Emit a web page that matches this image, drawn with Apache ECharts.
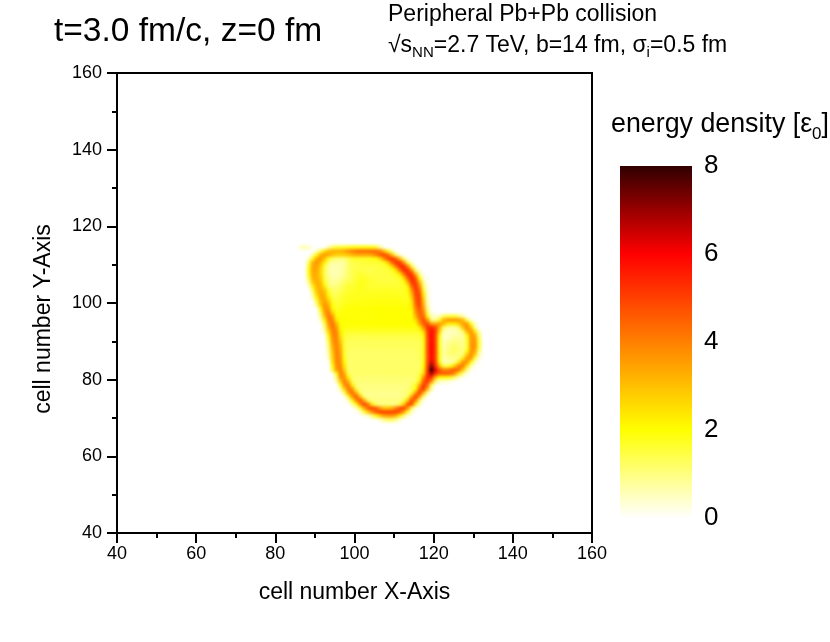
<!DOCTYPE html>
<html>
<head>
<meta charset="utf-8">
<script src="https://cdn.jsdelivr.net/npm/echarts@6/dist/echarts.min.js"></script>
<style>
  html, body { margin: 0; background: #fff; }
  #wrap { position: relative; width: 830px; height: 642px; }
  #heat, #frame { position: absolute; left: 0; top: 0; width: 830px; height: 642px; }
  #heat { filter: blur(1.5px); } /* source picture is interpolated between cells */
</style>
</head>
<body>
<div id="wrap">
  <div id="heat"></div>
  <div id="frame"></div>
</div>
<script>
// cell numbers along each axis, a cell k covers [k, k+1]
const cellX = [];
for (let k = 40; k < 160; k++) cellX.push(String(k));
const cellY = cellX.slice();

// row y of the picture, read top to bottom
const rowY = [114,113,112,111,110,109,108,107,106,105,104,103,102,101,100,99,98,97,96,95,94,93,92,91,90,89,88,87,86,85,84,83,82,81,80,79,78,77,76,75,74,73,72,71,70,69];
// first filled cell of every row
const rowStart = [86,90,89,88,88,88,88,88,88,88,88,89,89,89,90,90,91,91,91,91,92,92,92,93,93,93,93,93,93,93,94,94,94,95,95,95,96,96,97,98,98,99,100,101,103,106];

// energy density [e0], cell by cell
const energyRows = [
  [.5,.6,.5,0,0,0,0,.7,1.3,1.6,1.6,1.7,1.8,1.9,1.9,1.9,1.9,1.9,1.9,1.6,.9],
  [.5,1.3,2.4,3,3.2,3.2,3.2,3.4,3.8,4,4.2,4.3,4.3,4.3,4.3,4.3,4,3,1.8,.7],
  [.7,1.9,3.2,3.6,3.4,3,2.8,2.8,2.8,3,3.2,3.4,3.4,3.4,3.4,3.6,4,4.6,4.9,4.4,3,1.3,.3],
  [.5,1.9,3.3,3.7,3,1.8,1.3,1.1,1.1,1.1,1.4,1.7,1.7,1.7,1.7,1.7,1.8,2,2.6,3.8,4.9,5.2,4.6,3,1.1,.2],
  [1.3,3.2,3.7,3.2,2.2,1.1,.8,.7,.7,.8,1.2,1.4,1.5,1.5,1.6,1.6,1.6,1.6,1.6,1.9,2.8,4.4,5.2,5.2,3.8,1.4,.3],
  [1.7,3.4,3.5,2.8,1.6,.8,.6,.6,.7,.8,1.2,1.4,1.5,1.5,1.5,1.5,1.5,1.5,1.5,1.6,1.8,2.6,4.2,5.2,5.4,4,1.6,.3],
  [1.9,3.4,3.4,2.7,1.4,.8,.6,.6,.7,.9,1.2,1.4,1.5,1.5,1.5,1.4,1.4,1.5,1.5,1.5,1.6,1.8,2.4,4.2,5.3,5.3,3.8,1.2,.2],
  [1.8,3.3,3.3,2.6,1.4,.8,.6,.6,.7,.9,1.2,1.4,1.6,1.6,1.6,1.5,1.5,1.5,1.5,1.5,1.5,1.6,1.8,2.4,4.2,5.3,5.2,3.2,.9,.1],
  [1.5,3.2,3.3,2.8,1.5,.9,.7,.7,.8,1,1.2,1.4,1.6,1.7,1.7,1.6,1.5,1.5,1.5,1.5,1.5,1.5,1.6,1.8,2.6,4.6,5.4,4.6,1.9,.3],
  [1,2.9,3.3,3,1.7,1,.8,.8,1,1.2,1.4,1.5,1.7,1.8,1.8,1.7,1.6,1.6,1.5,1.5,1.5,1.5,1.5,1.6,1.9,3.4,5.2,5,3,.8,.1],
  [.4,2.2,3.2,3.2,2.1,1.1,.9,1,1.2,1.4,1.6,1.6,1.7,1.8,1.8,1.7,1.6,1.6,1.6,1.6,1.6,1.6,1.6,1.6,1.7,2.4,4.6,5.2,3.8,1.2,.2],
  [1.6,3,3.3,2.8,1.6,1.2,1.2,1.3,1.5,1.7,1.7,1.8,1.8,1.8,1.7,1.7,1.7,1.7,1.7,1.7,1.7,1.7,1.7,1.7,2,3.8,5.2,4.4,1.6,.2],
  [1,2.7,3.4,3.1,1.9,1.3,1.3,1.5,1.6,1.7,1.8,1.8,1.8,1.8,1.8,1.8,1.8,1.8,1.8,1.8,1.8,1.8,1.7,1.7,1.9,3.2,5,4.8,2.2,.3],
  [.6,2.2,3.4,3.3,2.2,1.5,1.4,1.6,1.7, 1.8,1.8,1.8,1.8, 1.8,1.8,1.8,1.8, 1.8,1.8,1.8,1.8, 1.8,1.8,1.8,1.8, 2.8,4.8,5,2.6,.4],
  [1.5,3.1,3.4,2.8,1.7,1.5,1.6,1.7, 1.8,1.8, 1.9,1.9,1.9,1.9, 1.9,1.9,1.9,1.9, 1.9,1.9,1.9,1.9, 1.8,1.8, 2.4,4.6,5,2.9,.5],
  [1,2.8,3.7,3.2,2,1.6,1.7,1.8, 1.9,1.9,1.9,1.9, 1.9,1.9,1.9,1.9, 1.9,1.9,1.9,1.9, 1.9,1.9,1.9,1.9, 2.3,4.3,5,3.2,.6],
  [2.1,3.7,3.6,2,1.7,1.8,1.9, 2,2,2,2, 2,2,2,2, 2,2,2,2, 2,2,2,2, 2.2,4,4.8,3.6,.9],
  [1.5,3.5,4,2.7,1.9,1.9, 2,2,2,2,2,2, 2,2,2,2,2,2, 2,2,2,2,2,2, 3.6,4.6,4,1.3,.2],
  [.9,3,4.2,3.6,2,2, 2,2,2,2,2,2, 2,2,2,2,2,2, 2,2,2,2,2,2, 3.2,4.4,4.4,2.1,.5,.4,.6,1.2,1.6,1.6,1.6,1.2,.6,.1],
  [.5,2.2,4,4,2.4,2, 2,2,2,2,2,2, 2,2,2,2,2,2, 2,2,2,2,2,2, 2.6,4,4.8,3.6,1.2,.8,1.8,3.2,3.6,3.7,3.7,3.6,3,1.4,.3],
  [1.4,3.6,4.2,3.2,2, 2,2,2,2,2, 2,2,2,2,2, 2,2,2,2,2, 2,2,2,2, 3.4,4.6,4.8,3.6,3.4,3.6,3.2,2.4,2.2,2.2,2.8,3.6,3.5,1.9,.4],
  [1,3.2,4.2,3.6,2.1, 1.9,1.9,1.9,1.9,1.9, 1.9,1.9,1.9,1.9,1.9, 1.9,1.9,1.9,1.9,1.9, 1.9,1.9,1.9,1.9, 2.3,3.8,5.2,5.5,5,3.4,1.4,.8,.7,.8,1.2,3,3.9,2.9,.9,.1],
  [.6,2.6,4,3.9,2.3,1.8, 1.7,1.7,1.7,1.7,1.7,1.7, 1.7,1.7,1.7,1.7,1.7,1.7, 1.7,1.7,1.7,1.7,1.7,1.7, 1.8,2.6,5,5.8,5.2,2.8,.8,.5,.5,.6,.7,1.3,3.2,3.7,2.4,.6],
  [2.1,3.9,4,2.5,1.7, 1.5,1.5,1.5,1.5,1.5, 1.5,1.5,1.5,1.5,1.5, 1.5,1.5,1.5,1.5,1.5, 1.5,1.5,1.5,1.5, 2.1,4.9,6,5,2.2,.5,.5,.6,.7,.7,.8,2.1,3.7,3.3,1.1],
  [1.7,3.7,4,2.8,1.6, 1.4,1.4,1.4,1.4,1.4, 1.4,1.4,1.4,1.4,1.4, 1.4,1.4,1.4,1.4,1.4, 1.4,1.4,1.4,1.4, 1.9,4.8,6,5,2,.5,.6,.8,.9,.9,.8,1.7,3.6,3.6,1.4],
  [1.3,3.5,4,3.1,1.6, 1.3,1.3,1.3,1.3,1.3, 1.3,1.3,1.3,1.3,1.3, 1.3,1.3,1.3,1.3,1.3, 1.3,1.3,1.3,1.3, 1.8,4.8,6,5,1.9,.6,.8,1,1,1,.9,1.6,3.6,3.7,1.5],
  [1.1,3.2,4,3.3,1.6, 1.3,1.3,1.3,1.3,1.3, 1.3,1.3,1.3,1.3,1.3, 1.3,1.3,1.3,1.3,1.3, 1.3,1.3,1.3,1.3, 1.8,4.8,6,5,1.9,.6,.9,1.1,1.2,1.1,.9,1.6,3.6,3.7,1.5],
  [.8,3,4,3.4,1.7, 1.2,1.2,1.2,1.2,1.2,1.2, 1.2,1.2,1.2,1.2,1.2,1.2, 1.2,1.2,1.2,1.2,1.2,1.2, 1.3,1.8,4.8,6,5,1.9,.7,1,1.2,1.2,1.1,1,1.9,3.7,3.4,1.1],
  [.7,2.8,4,3.6,1.7, 1.2,1.2,1.2,1.2,1.2,1.2, 1.2,1.2,1.2,1.2,1.2,1.2, 1.2,1.2,1.2,1.2,1.2,1.2, 1.3,1.8,4.8,6,5,1.9,.7,1,1.1,1.1,1,1.2,2.8,3.8,2.8,.7],
  [.5,2.6,4,3.7,1.9, 1.2,1.2,1.2,1.2,1.2,1.2, 1.2,1.2,1.2,1.2,1.2,1.2, 1.2,1.2,1.2,1.2,1.2,1.2, 1.3,1.8,4.8,6,5,1.9,.6,.8,.9,.9,1.1,2.3,3.7,3.6,1.6,.3],
  [2.4,3.9,3.8,2.1, 1.2,1.2,1.2,1.2,1.2, 1.2,1.2,1.2,1.2,1.2, 1.2,1.2,1.2,1.2,1.2, 1.2,1.2,1.2,1.2, 1.9,4.9,6.4,5.2,2.2,.7,.6,.7,1.2,2.4,3.8,3.7,2,.5,.1],
  [1.9,3.7,3.9,2.4, 1.2,1.2,1.2,1.2,1.2, 1.2,1.2,1.2,1.2,1.2, 1.2,1.2,1.2,1.2,1.2, 1.2,1.2,1.2,1.2, 2,5,7.2,5.4,3.2,1.7,1.4,2,3,4,4,2.4,.7,.1],
  [1.5,3.5,4,2.8, 1.2,1.2,1.2,1.2,1.2, 1.2,1.2,1.2,1.2,1.2, 1.2,1.2,1.2,1.2,1.2, 1.2,1.2,1.2,1.2, 2.2,5.2,8,6.2,4.8,4,4,4.4,4.6,4.2,2.8,1,.2],
  [1.9,4,3.4,1.5, 1.2,1.2,1.2,1.2,1.2,1.2, 1.2,1.2,1.2,1.2,1.2,1.2, 1.2,1.2,1.2,1.2,1.2, 1.4,2.6,5.3,6.8,5.4,4.6,4.6,4.6,4.4,3.6,2.2,.9,.2],
  [1.1,3.7,3.8,2.2,1.2, 1.1,1.1,1.1,1.1,1.1, 1.1,1.1,1.1,1.1,1.1, 1.1,1.1,1.1,1.1,1.1, 1.2,1.7,3.8,5.4,5.2,3.2,2,2,2,1.7,1,.4],
  [.6,2.8,4.1,3.2,1.4, 1.1,1.1,1.1,1.1,1.1, 1.1,1.1,1.1,1.1,1.1, 1.1,1.1,1.1,1.1,1.1, 1.2,2.2,4.6,5.2,3.8,1.3,.4,.4,.3,.2],
  [1.7,3.8,4.1,2.3,1.1, 1,1,1,1,1, 1,1,1,1,1, 1,1,1, 1.3,1.7,3.4,5.2,4.4,1.3],
  [.7,2.6,4.2,3.7,1.6, 1,1,1,1, 1,1,1,1, 1,1,1,1, 1.1,1.3,2,4.4,5.2,3.2,.6],
  [1.3,3.4,4.4,3.2,1.3, .9,.9,.9,.9,.9, .9,.9,.9,.9,.9, 1,1.1,1.6,3.6,5,3.2,.8],
  [1.8,3.7,4.6,3,1.1, .9,.9,.9,.9,.9, .9,.9,.9,.9, 1,1.4,3.4,5,3.6,1],
  [.4,2,3.9,4.8,3.4,1.3, 1,1,1,1, 1,1,1,1, 1.4,2.8,5,4,1.3,.2],
  [.7,2,3.9,5,4.2,2.2,1.2, 1,1,1,1,1, 1.4,2.8,4.8,4.8,2.2,.5],
  [.5,1.7,3.4,4.6,5,4.6,3.6,3,3,3.2,4,4.8,5,3.8,1.4,.2],
  [.4,1.5,2.8,3.8,4.6,5,5,5,5,5,4.6,3.4,1.7,.4],
  [.4,1,1.9,2.8,3.4,3.6,3.6,3.2,2.2,1,.3],
  [.4,.9,1.2,1.2,.9,.3]
];

const FONT = '"Liberation Sans", Arial, sans-serif';
const HOT = ['#ffffff','#ffff80','#ffff00','#ffc000','#ff8000','#ff4000','#ff0000','#990000','#300000'];
const GRID = { left: 117, top: 73, width: 475, height: 460 };

const cells = [];
rowY.forEach((y, r) => {
  energyRows[r].forEach((v, i) => {
    if (v > 0) cells.push([String(rowStart[r] + i), String(y), v]);
  });
});

// heat layer sits below the frame so that only the map is softened
const heat = echarts.init(document.getElementById('heat'), null, { renderer: 'canvas' });
heat.setOption({
  animation: false,
  grid: GRID,
  xAxis: { type: 'category', data: cellX, show: false },
  yAxis: { type: 'category', data: cellY, show: false },
  visualMap: { show: false, min: 0, max: 8, inRange: { color: HOT } },
  series: [{ type: 'heatmap', data: cells, progressive: 0, itemStyle: { borderWidth: 0 } }]
});

// colour bar runs from 8 at the top to 0 at the bottom
const barFill = new echarts.graphic.LinearGradient(0, 0, 0, 1,
  HOT.slice().reverse().map((c, i) => ({ offset: i / 8, color: c })));

const frame = echarts.init(document.getElementById('frame'), null, { renderer: 'canvas' });
const axisCommon = {
  type: 'value', min: 40, max: 160, interval: 20,
  nameLocation: 'middle',
  axisLine: { show: true, onZero: false, lineStyle: { color: '#000', width: 2 } },
  axisTick: { show: true, inside: false, length: 10, lineStyle: { color: '#000', width: 2 } },
  minorTick: { show: true, splitNumber: 2, length: 5, lineStyle: { color: '#000', width: 2 } },
  splitLine: { show: false }
};
const tickFont = { fontFamily: FONT, fontSize: 18, color: '#000', hideOverlap: false, showMinLabel: true, showMaxLabel: true };
frame.setOption({
  animation: false,
  backgroundColor: 'transparent',
  grid: [
    Object.assign({ show: true, borderColor: '#000', borderWidth: 2, backgroundColor: 'transparent' }, GRID),
    { show: true, left: 620, top: 166, width: 72, height: 352, borderWidth: 0, backgroundColor: barFill }
  ],
  xAxis: [
    Object.assign({}, axisCommon, {
      gridIndex: 0, name: 'cell number X-Axis', nameGap: 48,
      nameTextStyle: { fontFamily: FONT, fontSize: 23, color: '#000' },
      axisLabel: Object.assign({ margin: 12 }, tickFont)
    }),
    { gridIndex: 1, type: 'value', show: false, min: 0, max: 1 }
  ],
  yAxis: [
    Object.assign({}, axisCommon, {
      gridIndex: 0, name: 'cell number Y-Axis', nameGap: 62,
      // label sits lower than the axis middle in the source
      nameTextStyle: { fontFamily: FONT, fontSize: 23, color: '#000', padding: [0, 32, 0, 0] },
      axisLabel: Object.assign({ margin: 15 }, tickFont)
    }),
    {
      gridIndex: 1, type: 'value', position: 'right', min: 0, max: 8, interval: 2,
      axisLine: { show: false }, axisTick: { show: false }, splitLine: { show: false },
      axisLabel: { fontFamily: FONT, fontSize: 26, color: '#000', margin: 12 }
    }
  ],
  series: [],
  graphic: [
    { type: 'text', left: 54, top: 15, style: { text: 't=3.0 fm/c, z=0 fm', fontFamily: FONT, fontSize: 33.5, fill: '#000' } },
    { type: 'text', left: 388, top: 3, style: { text: 'Peripheral Pb+Pb collision', fontFamily: FONT, fontSize: 23, fill: '#000' } },
    {
      type: 'text', left: 388, top: 34,
      style: {
        text: '{m|\u221As}{s|NN}{m|=2.7 TeV, b=14 fm, \u03C3}{s|i}{m|=0.5 fm}',
        fontFamily: FONT, fontSize: 23, fill: '#000',
        rich: {
          m: { fontFamily: FONT, fontSize: 23, verticalAlign: 'top' },
          s: { fontFamily: FONT, fontSize: 15, padding: [11, 0, 0, 0], verticalAlign: 'top' }
        }
      }
    },
    {
      type: 'text', left: 611, top: 111,
      style: {
        text: '{m|energy density [\u03B5}{s|0}{m|]}',
        fontFamily: FONT, fontSize: 26.8, fill: '#000',
        rich: {
          m: { fontFamily: FONT, fontSize: 26.8, verticalAlign: 'top' },
          s: { fontFamily: FONT, fontSize: 17, padding: [15, 0, 0, 0], verticalAlign: 'top' }
        }
      }
    }
  ]
});
</script>
</body>
</html>
